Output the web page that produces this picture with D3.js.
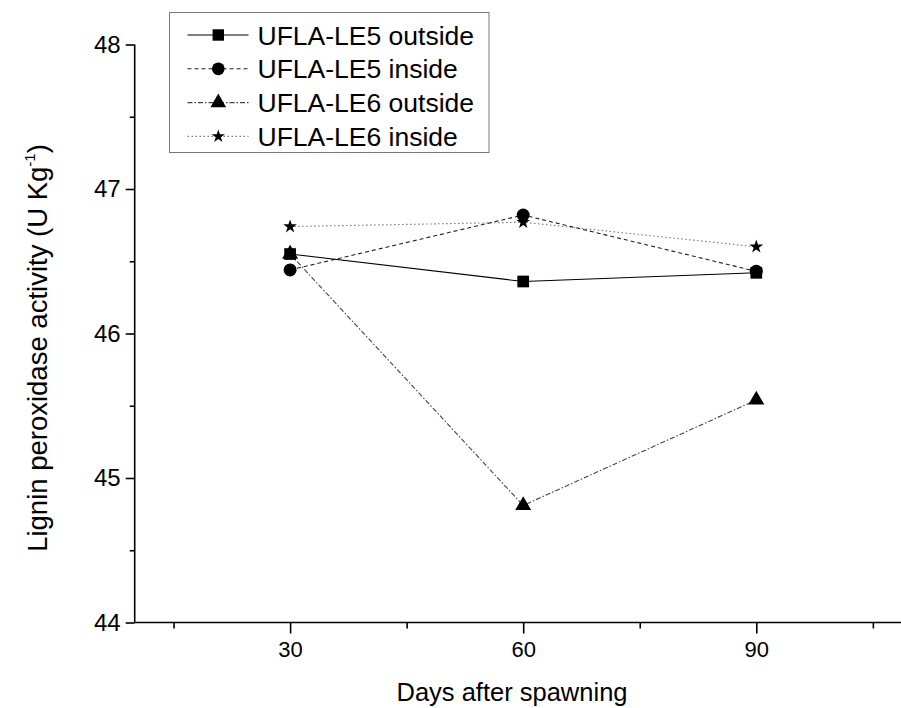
<!DOCTYPE html>
<html>
<head>
<meta charset="utf-8">
<script src="https://cdn.jsdelivr.net/npm/d3@7"></script>
<style>
  html, body { margin: 0; padding: 0; background: #fff; }
  svg { display: block; font-family: Arial, "Liberation Sans", sans-serif; }
</style>
</head>
<body>
<svg id="chart" width="901" height="708"></svg>
<script>
// ---- data ----
const days = [30, 60, 90];
const seriesNames = ["UFLA-LE5 outside", "UFLA-LE5 inside", "UFLA-LE6 outside", "UFLA-LE6 inside"];
const le5Outside = [46.55, 46.36, 46.42];
const le5Inside  = [46.44, 46.82, 46.43];
const le6Outside = [46.55, 44.81, 45.54];
const le6Inside  = [46.74, 46.77, 46.60];
const yTicks = [44, 45, 46, 47, 48];
const xTicks = [30, 60, 90];
const xTitle = "Days after spawning";
const yTitle = "Lignin peroxidase activity (U Kg";

// ---- styles ----
const styles = [
  { symbol: d3.symbolSquare,   size: 137, stroke: "#000",   dash: null,        width: 1.1 },
  { symbol: d3.symbolCircle,   size: 133, stroke: "#222",   dash: "4,3",       width: 1.1 },
  { symbol: d3.symbolTriangle, size: 112, stroke: "#444",   dash: "5,2,1.5,2", width: 1.1 },
  { symbol: d3.symbolStar,     size: 58,  stroke: "#777",   dash: "1.5,2.5",   width: 1.1 }
];
const seriesValues = [le5Outside, le5Inside, le6Outside, le6Inside];

const svg = d3.select("#chart");

const x = d3.scaleLinear().domain([10, 110]).range([134.7, 911.7]);
const y = d3.scaleLinear().domain([44, 48]).range([622.5, 44.5]);

// ---- axes ----
const axisColor = "#000";
const FONT = "Arial, 'Liberation Sans', sans-serif";
// y axis
const yAxisG = svg.append("g").attr("transform", `translate(${x(10)},0)`);
yAxisG.call(d3.axisLeft(y).tickValues(yTicks).tickSize(9).tickPadding(5).tickFormat(d3.format("d")));
yAxisG.append("g").call(d3.axisLeft(y).tickValues(d3.range(44.5, 48, 1)).tickSize(5).tickFormat(""))
  .select(".domain").remove();
yAxisG.attr("font-size", 24).attr("font-family", FONT);
yAxisG.selectAll("path.domain").attr("stroke", axisColor).attr("stroke-width", 1.6);
yAxisG.selectAll("line").attr("stroke", axisColor).attr("stroke-width", 1.6);
yAxisG.selectAll("text").attr("font-size", 24).attr("fill", "#000").attr("font-family", FONT);

// x axis
const xAxisG = svg.append("g").attr("transform", `translate(0,${y(44)})`);
xAxisG.call(d3.axisBottom(x).tickValues(xTicks).tickSize(11).tickPadding(8).tickFormat(d3.format("d")));
xAxisG.append("g").call(d3.axisBottom(x).tickValues([15, 45, 75, 105]).tickSize(6).tickFormat(""))
  .select(".domain").remove();
xAxisG.attr("font-size", 22).attr("font-family", FONT);
xAxisG.selectAll("path.domain").attr("stroke", axisColor).attr("stroke-width", 1.6);
xAxisG.selectAll("line").attr("stroke", axisColor).attr("stroke-width", 1.6);
xAxisG.selectAll("text").attr("font-size", 22).attr("fill", "#000").attr("font-family", FONT);
xAxisG.select("path.domain").attr("d", `M${x(10)},0H${x(110)}`);
yAxisG.select("path.domain").attr("d", `M0,${y(44)}V${y(48)}`);

// axis titles
svg.append("text")
  .attr("x", 512).attr("y", 701)
  .attr("text-anchor", "middle")
  .attr("font-size", 25.5)
  .attr("fill", "#000")
  .text(xTitle);

const yt = svg.append("text")
  .attr("transform", `translate(47,348) rotate(-90)`)
  .attr("text-anchor", "middle")
  .attr("font-size", 27.5)
  .attr("fill", "#000");
yt.append("tspan").text(yTitle);
yt.append("tspan").attr("font-size", 15).attr("dy", -12).text("-1");
yt.append("tspan").attr("dy", 12).text(")");

// ---- lines ----
const line = d3.line().x((d, i) => x(days[i])).y(d => y(d));
const plot = svg.append("g");
for (let k = seriesValues.length - 1; k >= 0; k--) {
  const st = styles[k];
  plot.append("path")
    .datum(seriesValues[k])
    .attr("d", line)
    .attr("fill", "none")
    .attr("stroke", st.stroke)
    .attr("stroke-width", st.width)
    .attr("stroke-dasharray", st.dash);
}
for (let k = seriesValues.length - 1; k >= 0; k--) {
  const st = styles[k];
  plot.selectAll(null)
    .data(seriesValues[k])
    .enter().append("path")
    .attr("d", d3.symbol().type(st.symbol).size(st.size))
    .attr("transform", (d, i) => `translate(${x(days[i])},${y(d)})`)
    .attr("fill", "#000");
}

// ---- legend ----
const lg = svg.append("g");
lg.append("rect")
  .attr("x", 169.5).attr("y", 12.5)
  .attr("width", 319.5).attr("height", 140)
  .attr("fill", "#fff")
  .attr("stroke", "#777")
  .attr("stroke-width", 1);
seriesNames.forEach((name, i) => {
  const st = styles[i];
  const ry = 35 + i * 33.8;
  lg.append("line")
    .attr("x1", 187.5).attr("x2", 248.5)
    .attr("y1", ry).attr("y2", ry)
    .attr("stroke", st.stroke)
    .attr("stroke-width", st.width)
    .attr("stroke-dasharray", st.dash);
  lg.append("path")
    .attr("d", d3.symbol().type(st.symbol).size(st.size * 0.95))
    .attr("transform", `translate(218.3,${ry})`)
    .attr("fill", "#000");
  lg.append("text")
    .attr("x", 257.5).attr("y", ry + 9.5)
    .attr("font-size", 26.5)
    .attr("fill", "#000")
    .text(name);
});
</script>
</body>
</html>
